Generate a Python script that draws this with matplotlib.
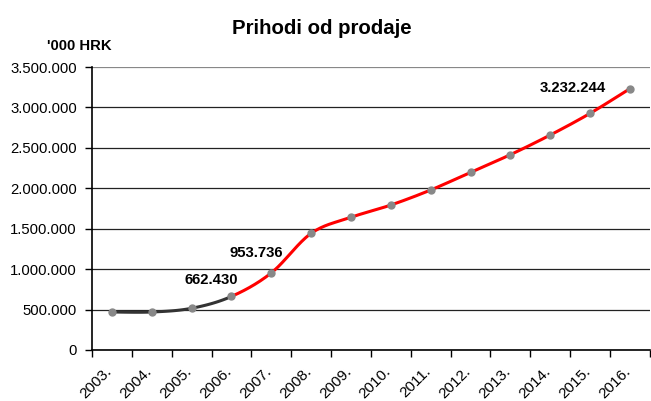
import numpy as np
import matplotlib.pyplot as plt
import matplotlib.transforms as mtrans
from matplotlib.ticker import FuncFormatter

plt.rcParams['font.family'] = ['Liberation Sans', 'DejaVu Sans']

years = ['2003.', '2004.', '2005.', '2006.', '2007.', '2008.', '2009.',
         '2010.', '2011.', '2012.', '2013.', '2014.', '2015.', '2016.']
revenue = [470000, 470000, 516000, 662430, 953736, 1443000, 1641000,
           1793000, 1979000, 2197000, 2416000, 2659000, 2927000, 3232244]
labelled = {3: '662.430', 4: '953.736', 13: '3.232.244'}


def smooth(xs, ys, n=30):
    # Catmull-Rom curve through the points, like Excel's smoothed line
    xs = np.asarray(xs, float)
    ys = np.asarray(ys, float)
    px = np.concatenate([[xs[0]], xs, [xs[-1]]])
    py = np.concatenate([[ys[0]], ys, [ys[-1]]])
    outx, outy = [], []
    t = np.linspace(0, 1, n)
    for i in range(1, len(px) - 2):
        p0, p1, p2, p3 = [np.array([px[j], py[j]]) for j in range(i - 1, i + 3)]
        c1 = p1 + (p2 - p0) / 6
        c2 = p2 - (p3 - p1) / 6
        b = ((1 - t) ** 3)[:, None] * p1 + (3 * (1 - t) ** 2 * t)[:, None] * c1 \
            + (3 * (1 - t) * t ** 2)[:, None] * c2 + (t ** 3)[:, None] * p2
        outx.extend(b[:, 0])
        outy.extend(b[:, 1])
    return np.array(outx), np.array(outy)


x = np.arange(len(years))
sx, sy = smooth(x, revenue)
split = len(sx) * 3 // (len(x) - 1)

fig = plt.figure(figsize=(6.51, 4.01), dpi=100)
ax = fig.add_axes([0.1413, 0.1272, 0.857, 0.7057])

ax.plot(sx[:split + 1], sy[:split + 1], color='#333333', lw=2.2, zorder=3)
ax.plot(sx[split:], sy[split:], color='#ff0000', lw=2.2, zorder=3)
ax.plot(x, revenue, 'o', color='#888888', ms=5, zorder=4)

offsets = {3: (-0.5, 204000), 4: (-0.375, 246000), 13: (-1.425, 8000)}
for i, txt in labelled.items():
    dx, dy = offsets[i]
    ax.text(x[i] + dx, revenue[i] + dy, txt, fontsize=10.7, fontweight='bold',
            ha='center', va='center')

ax.set_xlim(-0.5, len(years) - 0.5)
ax.set_ylim(0, 3500000)
ax.set_yticks(np.arange(0, 3500001, 500000))
ax.yaxis.set_major_formatter(FuncFormatter(lambda v, p: f'{int(v):,}'.replace(',', '.')))
ax.grid(axis='y', color='#222222', lw=0.9)
ax.set_axisbelow(True)
ax.get_ygridlines()[-1].set_color('#888888')

ax.set_xticks(x)
ax.set_xticklabels(years, rotation=45, ha='right', rotation_mode='anchor')
ax.set_xticks(np.arange(-0.5, len(years), 1), minor=True)
ax.tick_params(axis='x', which='major', length=0, pad=10, labelsize=11)
ax.tick_params(axis='x', which='minor', length=5, width=1, direction='out')
ax.tick_params(axis='y', length=5, width=1, labelsize=10.7, pad=6)
shift = mtrans.ScaledTranslation(-7 / 100, 0, fig.dpi_scale_trans)
for lab in ax.get_xticklabels():
    lab.set_transform(lab.get_transform() + shift)

for s in ['top', 'right']:
    ax.spines[s].set_visible(False)
ax.spines['left'].set_linewidth(1.2)
ax.spines['bottom'].set_linewidth(1.2)

fig.text(0.495, 0.928, 'Prihodi od prodaje', fontsize=14.7, fontweight='bold',
         ha='center', va='center')
fig.text(0.122, 0.885, "'000 HRK", fontsize=10.7, fontweight='bold',
         ha='center', va='center')

fig.savefig('out.png', dpi=100)
